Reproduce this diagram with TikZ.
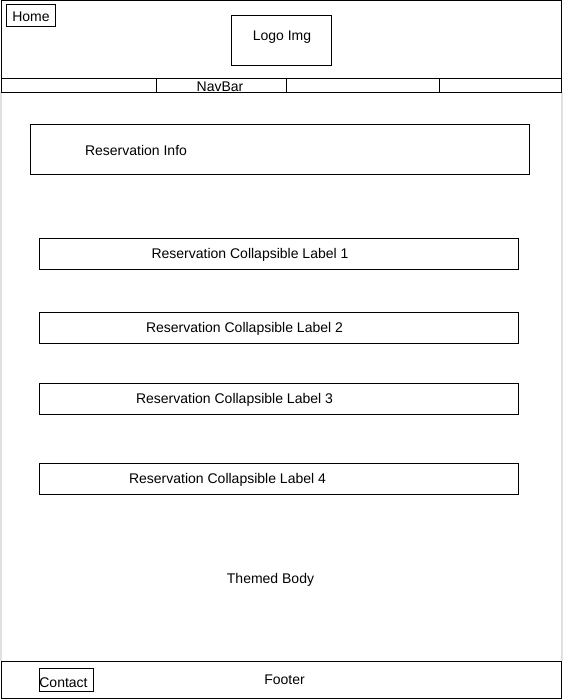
\documentclass[tikz,border=0pt]{standalone}
\usepackage{fontspec}
\setmainfont{Liberation Sans}
\begin{document}
\begin{tikzpicture}[x=1pt,y=-1pt,
  box/.style={draw=black,line width=1pt,rectangle,inner sep=0pt,outer sep=0pt,anchor=north west},
  txt/.style={inner sep=0pt,font=\fontsize{14}{16}\selectfont,text=black},
  side/.style={draw=black!12,line width=2pt}]
\useasboundingbox[fill=white] (0,0) rectangle (563,699);
% body side edges
\coordinate (bl1) at (1,92);
\coordinate (bl2) at (1,661);
\coordinate (br1) at (562,92);
\coordinate (br2) at (562,661);
\draw[side] (bl1) -- (bl2);
\draw[side] (br1) -- (br2);
% header
\node[box,minimum width=560pt,minimum height=78pt] (header) at (1.5,0.5) {};
\node[box,minimum width=49.5pt,minimum height=22pt] (homebox) at (6,4) {};
\node[txt] (home) at (31,17) {Home};
\node[box,minimum width=100pt,minimum height=50pt] (logobox) at (231.5,15.5) {};
\node[txt] (logo) at (282,37.5) {Logo Img};
% navbar
\node[box,minimum width=154.5pt,minimum height=14pt] (nav1) at (1.5,78.5) {};
\node[box,minimum width=130pt,minimum height=14pt] (nav2) at (156,78.5) {};
\node[box,minimum width=153pt,minimum height=14pt] (nav3) at (286,78.5) {};
\node[box,minimum width=122.5pt,minimum height=14pt] (nav4) at (439,78.5) {};
\node[txt] (navtxt) at (220,87) {NavBar};
% reservation info
\node[box,minimum width=499pt,minimum height=50pt] (infobox) at (30.5,124.5) {};
\node[txt] (info) at (136,150.5) {Reservation Info};
% collapsible labels
\node[box,minimum width=479pt,minimum height=31pt] (l1box) at (39.5,238.5) {};
\node[txt] (l1) at (250,254.5) {Reservation Collapsible Label 1};
\node[box,minimum width=479pt,minimum height=31pt] (l2box) at (39.5,312.5) {};
\node[txt] (l2) at (244.5,328.5) {Reservation Collapsible Label 2};
\node[box,minimum width=479pt,minimum height=31pt] (l3box) at (39.5,383.5) {};
\node[txt] (l3) at (234.5,399.5) {Reservation Collapsible Label 3};
\node[box,minimum width=479pt,minimum height=31pt] (l4box) at (39.5,463.5) {};
\node[txt] (l4) at (227.5,479.5) {Reservation Collapsible Label 4};
% body label
\node[txt] (body) at (270.5,579.5) {Themed Body};
% footer
\node[box,minimum width=560pt,minimum height=37pt] (footerbox) at (1.5,661.5) {};
\node[txt] (footer) at (284.5,679.5) {Footer};
\node[box,minimum width=54pt,minimum height=23pt] (contactbox) at (39.5,668.5) {};
\node[txt] (contact) at (63.5,682.5) {Contact};
\end{tikzpicture}
\end{document}
